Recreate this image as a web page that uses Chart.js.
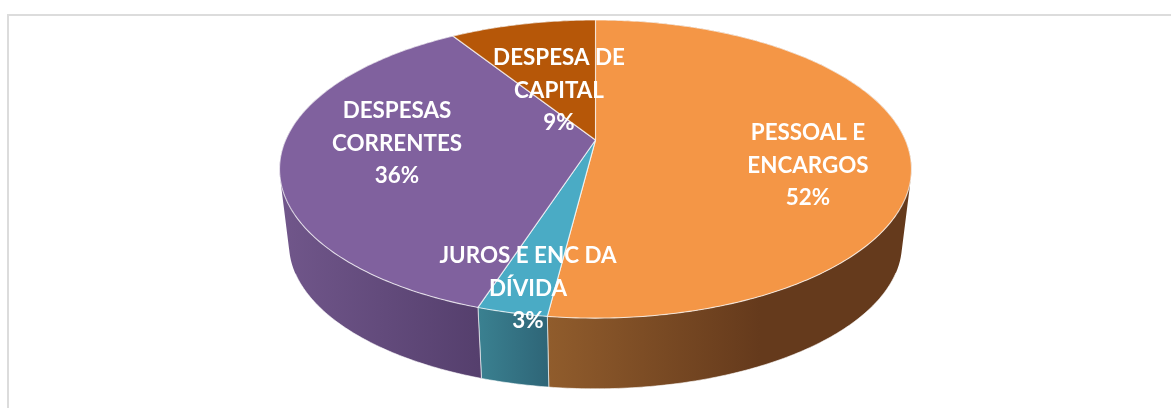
<!DOCTYPE html>
<html lang="pt">
<head>
<meta charset="utf-8">
<title>Despesas</title>
<script src="https://cdn.jsdelivr.net/npm/chart.js@4/dist/chart.umd.min.js"></script>
<style>
html,body{margin:0;padding:0;background:#fff;overflow:hidden}
#wrap{position:relative;width:1171px;height:408px}
#frame{position:absolute;left:7px;top:14px;right:-4px;bottom:-4px;border:2px solid #dcdcdc}
canvas{position:absolute;left:0;top:0}
</style>
</head>
<body>
<div id="wrap"><div id="frame"></div><canvas id="c" width="1171" height="408"></canvas></div>
<script>
const categories = ['PESSOAL E ENCARGOS', 'JUROS E ENC DA DÍVIDA', 'DESPESAS CORRENTES', 'DESPESA DE CAPITAL'];
const values = [52, 3, 36, 9];
const topColors = ['#F49646', '#4AABC5', '#80619E', '#B65708'];
const wallStart = ['#905C2C', '#3A8090', '#70568A', '#7A3A06'];
const wallEnd = ['#653A1C', '#2E6577', '#553F6D', '#7A3A06'];
const labelLines = [['PESSOAL E', 'ENCARGOS', '52%'], ['JUROS E ENC DA', 'DÍVIDA', '3%'], ['DESPESAS', 'CORRENTES', '36%'], ['DESPESA DE', 'CAPITAL', '9%']];
const labelAnchors = [[808, 133], [528, 256], [397, 111], [559, 58]];
const wallRanges = [[549, 760], [480, 549], [285, 480], [460, 596]];

// Perspective projection of the unit disc (Excel-style 3D pie).
const K = 0.195, A = 309.9, B = 143.4, CX = 595.5, CY = 140;
const TOP = {s: 1, cy: CY}, BOTTOM = {s: 0.97, cy: 216};
const RIM_MIN_Y = 272;
function project(u, v, plane) {
  const w = 1 - K * v;
  return [CX + plane.s * A * u / w, plane.cy + plane.s * B * v / w];
}
function arcPoints(el, plane) {
  const pts = [], n = Math.max(8, Math.ceil((el.endAngle - el.startAngle) * 80));
  for (let i = 0; i <= n; i++) {
    const a = el.startAngle + (el.endAngle - el.startAngle) * i / n;
    pts.push(project(Math.cos(a), Math.sin(a), plane));
  }
  return pts;
}
function drawTop(ctx) {
  const pts = arcPoints(this, TOP), c = project(0, 0, TOP);
  ctx.save();
  ctx.beginPath();
  ctx.moveTo(c[0], c[1]);
  pts.forEach(p => ctx.lineTo(p[0], p[1]));
  ctx.closePath();
  ctx.fillStyle = this.options.backgroundColor;
  ctx.fill();
  ctx.lineWidth = 1.1;
  ctx.lineJoin = 'round';
  ctx.strokeStyle = 'rgba(255,255,255,0.72)';
  ctx.stroke();
  ctx.restore();
}
function addQuad(ctx, q) {
  let area = 0;
  for (let i = 0; i < 4; i++) {
    const p = q[i], r = q[(i + 1) % 4];
    area += p[0] * r[1] - r[0] * p[1];
  }
  const ordered = area < 0 ? q.slice().reverse() : q;
  ordered.forEach((p, j) => j ? ctx.lineTo(p[0], p[1]) : ctx.moveTo(p[0], p[1]));
  ctx.closePath();
}

const pie3d = {
  id: 'pie3d',
  afterDatasetsUpdate(chart) {
    chart.getDatasetMeta(0).data.forEach(el => { el.draw = drawTop; });
  },
  beforeDatasetsDraw(chart) {
    const ctx = chart.ctx;
    chart.getDatasetMeta(0).data.forEach((el, i) => {
      const up = arcPoints(el, TOP), down = arcPoints(el, BOTTOM);
      const g = ctx.createLinearGradient(wallRanges[i][0], 0, wallRanges[i][1], 0);
      g.addColorStop(0, wallStart[i]);
      g.addColorStop(1, wallEnd[i]);
      ctx.save();
      ctx.beginPath();
      for (let j = 0; j < up.length - 1; j++) {
        addQuad(ctx, [up[j], up[j + 1], down[j + 1], down[j]]);
      }
      ctx.fillStyle = g;
      ctx.fill();
      // thin light edges: front bottom rim and the seams between slices
      const last = up.length - 1;
      ctx.beginPath();
      for (let j = 0; j < last; j++) {
        if (down[j][1] > RIM_MIN_Y && down[j + 1][1] > RIM_MIN_Y) {
          ctx.moveTo(down[j][0], down[j][1]);
          ctx.lineTo(down[j + 1][0], down[j + 1][1]);
        }
      }
      [0, last].forEach(j => {
        if (down[j][1] > RIM_MIN_Y) {
          ctx.moveTo(up[j][0], up[j][1]);
          ctx.lineTo(down[j][0], down[j][1]);
        }
      });
      ctx.lineWidth = 1;
      ctx.strokeStyle = 'rgba(255,255,255,0.6)';
      ctx.stroke();
      ctx.restore();
    });
  },
  afterDatasetsDraw(chart) {
    const ctx = chart.ctx;
    ctx.save();
    ctx.fillStyle = '#fff';
    ctx.font = 'bold 22.4px Lato, "Open Sans", sans-serif';
    ctx.textAlign = 'center';
    ctx.textBaseline = 'middle';
    labelLines.forEach((lines, i) => {
      lines.forEach((t, j) => ctx.fillText(t, labelAnchors[i][0], labelAnchors[i][1] + j * 32.5));
    });
    ctx.restore();
  }
};

new Chart(document.getElementById('c'), {
  type: 'pie',
  data: {
    labels: categories,
    datasets: [{data: values, backgroundColor: topColors, borderWidth: 0}]
  },
  options: {
    responsive: false,
    animation: false,
    plugins: {legend: {display: false}, tooltip: {enabled: false}}
  },
  plugins: [pie3d]
});
</script>
</body>
</html>
